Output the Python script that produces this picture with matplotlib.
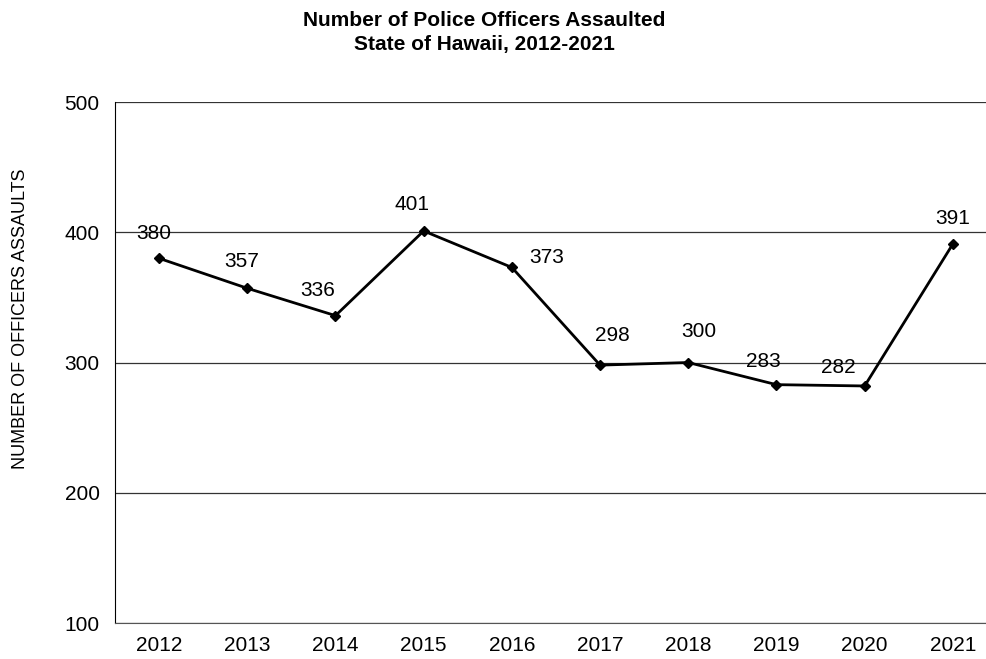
import matplotlib.pyplot as plt
import numpy as np

plt.rcParams['font.family'] = ['Liberation Sans', 'DejaVu Sans']

years = ['2012', '2013', '2014', '2015', '2016', '2017', '2018', '2019', '2020', '2021']
assaults = [380, 357, 336, 401, 373, 298, 300, 283, 282, 391]

# where each value label sits relative to its point (pixels)
label_offsets = [(-5, 25), (-6, 27), (-18, 25), (-12, 26), (35, 10),
                 (12, 30), (11, 31), (-13, 23), (-26, 18), (0, 25)]

fig = plt.figure(figsize=(9.86, 6.59), dpi=100)
# plot area runs a little past the right edge of the figure
ax = fig.add_axes([0.1166, 0.0546, 0.8945, 0.7906])

x = np.arange(len(years))
ax.plot(x, assaults, color='black', linewidth=2, marker='D', markersize=5, zorder=3, clip_on=False)

for xi, v, (dx, dy) in zip(x, assaults, label_offsets):
    ax.annotate(str(v), (xi, v), xytext=(dx * 0.72, dy * 0.72), textcoords='offset points',
                ha='center', va='center', fontsize=15)

ax.set_xlim(-0.5, 9.5)
ax.set_ylim(100, 500)
ax.set_yticks([100, 200, 300, 400, 500])
ax.set_xticks(x)
ax.set_xticklabels(years)
ax.tick_params(length=0, labelsize=15, pad=9)
ax.tick_params(axis='y', pad=11)

ax.grid(axis='y', color='#333333', linewidth=0.9)
ax.set_axisbelow(True)
ax.spines['top'].set_visible(False)
ax.spines['right'].set_visible(False)
ax.spines['left'].set_color('black')
ax.spines['bottom'].set_color('#555555')

fig.text(0.0203, 0.517, 'NUMBER OF OFFICERS ASSAULTS', rotation=90, ha='center', va='center', fontsize=13)
fig.text(0.491, 0.969, 'Number of Police Officers Assaulted', ha='center', va='center',
         fontsize=15, fontweight='bold')
fig.text(0.491, 0.933, 'State of Hawaii, 2012-2021', ha='center', va='center',
         fontsize=15, fontweight='bold')

fig.savefig('out.png', dpi=100)
